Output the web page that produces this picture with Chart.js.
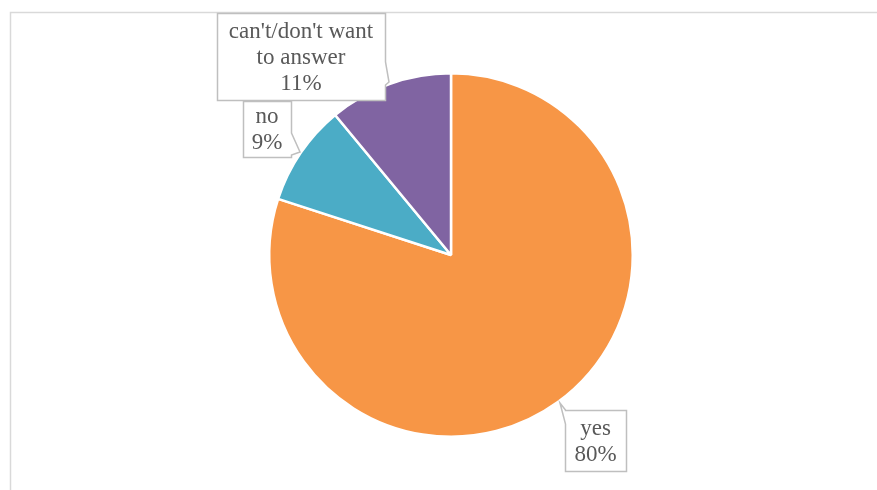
<!DOCTYPE html>
<html>
<head>
<meta charset="utf-8">
<script src="https://cdn.jsdelivr.net/npm/chart.js@4/dist/chart.umd.min.js"></script>
<style>
    html, body { margin: 0; padding: 0; background: #fff; }
    #wrap { width: 877px; height: 490px; }
</style>
</head>
<body>
<div id="wrap"><canvas id="grafico" width="877" height="490"></canvas></div>
<script>
const categorias = ["yes", "no", "can't/don't want to answer"];
const porcentajes = [80, 9, 11];
const colores = ['#F79646', '#4BACC6', '#8064A2'];

// lineas de texto de cada etiqueta
const textosEtiqueta = [
    ['yes'],
    ['no'],
    ["can't/don't want", 'to answer'],
];

// cajas de las etiquetas: rectangulo y la punta que apunta al sector
const cajas = [
    {x: 565, y: 410, w: 61, h: 61, lado: 'izq', a: 410, b: 424, punta: [560, 403]},
    {x: 243, y: 101, w: 48, h: 56, lado: 'der', a: 133, b: 155, punta: [300, 152]},
    {x: 217, y: 13, w: 168, h: 87, lado: 'der', a: 62, b: 85, punta: [389, 82]},
];

const marcoEtiquetas = {
    id: 'marcoEtiquetas',
    beforeDraw(chart) {
        const ctx = chart.ctx;
        ctx.save();
        ctx.strokeStyle = '#d9d9d9';
        ctx.lineWidth = 1.5;
        ctx.beginPath();
        ctx.moveTo(10.5, 490);
        ctx.lineTo(10.5, 12.5);
        ctx.lineTo(877, 12.5);
        ctx.stroke();
        ctx.restore();
    },
    afterDraw(chart) {
        const ctx = chart.ctx;
        ctx.save();
        ctx.font = '23px "Liberation Serif", "Times New Roman", serif';
        ctx.textAlign = 'center';
        ctx.textBaseline = 'middle';
        cajas.forEach((c, i) => {
            const x0 = c.x + 0.5, y0 = c.y + 0.5, x1 = c.x + c.w + 0.5, y1 = c.y + c.h + 0.5;
            ctx.beginPath();
            ctx.moveTo(x0, y0);
            if (c.lado === 'izq') {
                ctx.lineTo(x1, y0);
                ctx.lineTo(x1, y1);
                ctx.lineTo(x0, y1);
                ctx.lineTo(x0, c.b);
                ctx.lineTo(c.punta[0], c.punta[1]);
                ctx.lineTo(x0, c.a);
            } else {
                ctx.lineTo(x1, y0);
                ctx.lineTo(x1, c.a);
                ctx.lineTo(c.punta[0], c.punta[1]);
                ctx.lineTo(x1, c.b);
                ctx.lineTo(x1, y1);
                ctx.lineTo(x0, y1);
            }
            ctx.closePath();
            ctx.fillStyle = '#ffffff';
            ctx.fill();
            ctx.strokeStyle = '#bfbfbf';
            ctx.lineWidth = 1.5;
            ctx.stroke();

            const lineas = textosEtiqueta[i].concat(porcentajes[i] + '%');
            const alto = 26;
            const yIni = c.y + c.h / 2 - (lineas.length - 1) * alto / 2 + 1;
            ctx.fillStyle = '#595959';
            lineas.forEach((t, j) => ctx.fillText(t, c.x + c.w / 2, yIni + j * alto));
        });
        ctx.restore();
    }
};

new Chart(document.getElementById('grafico'), {
    type: 'pie',
    data: {
        labels: categorias,
        datasets: [{
            data: porcentajes,
            backgroundColor: colores,
            borderColor: '#ffffff',
            borderWidth: 2.5,
            hoverOffset: 0
        }]
    },
    options: {
        responsive: false,
        animation: false,
        events: [],
        layout: {
            padding: {left: 268, right: 243, top: 72, bottom: 52}
        },
        plugins: {
            legend: {display: false},
            tooltip: {enabled: false}
        }
    },
    plugins: [marcoEtiquetas]
});
</script>
</body>
</html>
